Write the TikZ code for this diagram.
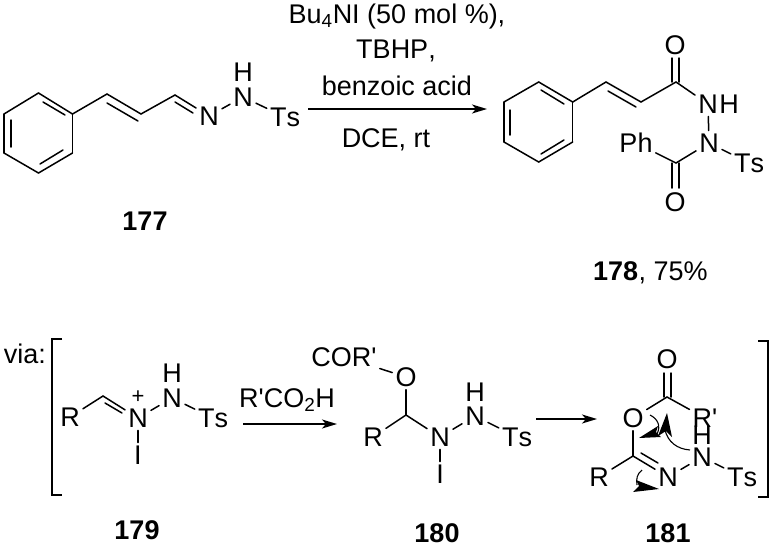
\documentclass[tikz,border=0pt]{standalone}
\usepackage{fontspec}
\setmainfont{Liberation Sans}[Kerning=Off]
\usetikzlibrary{arrows.meta}
\tikzset{
  atom/.style={font=\fontsize{27}{30}\selectfont,inner sep=3pt},
  txt/.style={font=\fontsize{27}{30}\selectfont,inner sep=0pt,anchor=base},
  lab/.style={font=\fontsize{27}{30}\selectfont\bfseries,inner sep=0pt,anchor=base},
  bond/.style={line width=1.5pt,line cap=round},
  rarrow/.style={line width=1.5pt,-{Stealth[length=15pt,width=9pt,inset=4pt]}},
  brack/.style={line width=1.5pt},
  push/.style={line width=1.1pt}
}
\newcommand{\qs}{\textquotesingle}
\begin{document}
\begin{tikzpicture}[x=1pt,y=-1pt]
    \useasboundingbox (0,0) rectangle (772,547);

    % 177
    \coordinate (a1) at (38.5,93);
    \coordinate (a2) at (72.5,114);
    \coordinate (a3) at (72.5,153);
    \coordinate (a4) at (38.5,173);
    \coordinate (a5) at (4,153);
    \coordinate (a6) at (4,114);
    \coordinate (a7) at (107,94);
    \coordinate (a8) at (141,114);
    \coordinate (a9) at (175,95);
    \coordinate (ai1) at (43,102);
    \coordinate (ai2) at (65,115);
    \coordinate (ai3) at (11,120);
    \coordinate (ai4) at (11,147);
    \coordinate (ai5) at (40,164);
    \coordinate (ai6) at (63,150);
    \coordinate (ai7) at (107,103);
    \coordinate (ai8) at (138,121);
    \coordinate (ai9) at (175,102);
    \coordinate (ai10) at (193,113);
    \node[atom] (aN) at (209,116) {N};
    \node[atom] (aNH) at (243,97) {N};
    \node[atom] (aH) at (243,72) {H};
    \node[atom] (aTs) at (285,117) {Ts};
    \foreach \p/\q in {a1/a2,a2/a3,a3/a4,a4/a5,a5/a6,a6/a1,a2/a7,a7/a8,a8/a9,a9/aN,aN/aNH,aNH/aTs,
                       ai1/ai2,ai3/ai4,ai5/ai6,ai7/ai8,ai9/ai10}
      \draw[bond] (\p) -- (\q);
    \node[lab] (l177) at (145,230) {177};

    % conditions
    \node[txt] (c1) at (397,23) {Bu\textsubscript{4}NI (50 mol \%),};
    \node[txt] (c2) at (396,58) {TBHP,};
    \node[txt] (c3) at (397,95) {benzoic acid};
    \node[txt] (c4) at (386,147) {DCE, rt};
    \coordinate (r1) at (308,109);
    \coordinate (r2) at (487,109);
    \draw[rarrow] (r1) -- (r2);

    % 178
    \coordinate (b1) at (538.7,82);
    \coordinate (b2) at (572.7,102);
    \coordinate (b3) at (572.7,142);
    \coordinate (b4) at (538.7,162);
    \coordinate (b5) at (504,142);
    \coordinate (b6) at (504,102);
    \coordinate (b7) at (606,82);
    \coordinate (b8) at (641,102);
    \coordinate (b9) at (676,82);
    \coordinate (b10) at (676,163);
    \coordinate (bi1) at (541,90);
    \coordinate (bi2) at (564,104);
    \coordinate (bi3) at (510,110);
    \coordinate (bi4) at (510,135);
    \coordinate (bi5) at (541,154);
    \coordinate (bi6) at (564,140);
    \coordinate (bi7) at (608,91);
    \coordinate (bi8) at (636,107);
    \coordinate (bo1) at (672,58);
    \coordinate (bo2) at (672,82);
    \coordinate (bo3) at (679,58);
    \coordinate (bo4) at (679,82);
    \coordinate (bo5) at (672,163);
    \coordinate (bo6) at (672,188);
    \coordinate (bo7) at (679,163);
    \coordinate (bo8) at (679,188);
    \node[atom] (bO1) at (675,45) {O};
    \node[atom] (bN1) at (708,104) {N};
    \node[atom,inner sep=0pt] (bH) at (729,104) {H};
    \node[atom] (bN2) at (709,143) {N};
    \node[atom] (bTs) at (749,163) {Ts};
    \node[atom] (bPh) at (636,143) {Ph};
    \node[atom] (bO2) at (675,202) {O};
    \foreach \p/\q in {b1/b2,b2/b3,b3/b4,b4/b5,b5/b6,b6/b1,b2/b7,b7/b8,b8/b9,b9/bN1,bN1/bN2,bN2/bTs,bN2/b10,b10/bPh,
                       bi1/bi2,bi3/bi4,bi5/bi6,bi7/bi8,bo1/bo2,bo3/bo4,bo5/bo6,bo7/bo8}
      \draw[bond] (\p) -- (\q);
    \node[lab,anchor=base west] (l178) at (593,280) {178};
    \node[txt,anchor=base west] (y178) at (l178.base east) {, 75\%};

    % via, brackets
    \node[txt] (via) at (25,363) {via:};
    \coordinate (k1) at (62,339);
    \coordinate (k2) at (52,339);
    \coordinate (k3) at (52,495);
    \coordinate (k4) at (62,495);
    \coordinate (k5) at (758,341);
    \coordinate (k6) at (768,341);
    \coordinate (k7) at (768,497);
    \coordinate (k8) at (758,497);
    \draw[brack] (k1) -- (k2) -- (k3) -- (k4);
    \draw[brack] (k5) -- (k6) -- (k7) -- (k8);

    % 179
    \coordinate (d1) at (103,396);
    \coordinate (di1) at (105,403);
    \coordinate (di2) at (122,413);
    \node[atom] (dR) at (70,417) {R};
    \node[atom] (dN1) at (138,418) {N};
    \node[font=\fontsize{22}{24}\selectfont,inner sep=0pt] (dplus) at (138,397) {+};
    \node[atom] (dN2) at (172,398) {N};
    \node[atom] (dH) at (172,373) {H};
    \node[atom] (dTs) at (213,418) {Ts};
    \node[atom] (dI) at (138,455) {I};
    \foreach \p/\q in {dR/d1,d1/dN1,di1/di2,dN1/dN2,dN2/dTs,dN1/dI}
      \draw[bond] (\p) -- (\q);
    \node[lab] (l179) at (137,539) {179};

    \node[txt] (acid) at (287,407) {R\qs CO\textsubscript{2}H};
    \coordinate (s1) at (243,424);
    \coordinate (s2) at (337,424);
    \draw[rarrow] (s1) -- (s2);

    % 180
    \coordinate (e1) at (406,415);
    \node[atom] (eCOR) at (344,357) {COR\qs};
    \node[atom] (eO) at (406,377) {O};
    \node[atom] (eR) at (373,437) {R};
    \node[atom] (eN1) at (440,437) {N};
    \node[atom] (eN2) at (475,416) {N};
    \node[atom] (eH) at (475,392) {H};
    \node[atom] (eTs) at (517,437) {Ts};
    \node[atom] (eI) at (440,474) {I};
    \foreach \p/\q in {eCOR/eO,eO/e1,e1/eR,e1/eN1,eN1/eN2,eN2/eTs,eN1/eI}
      \draw[bond] (\p) -- (\q);
    \node[lab] (l180) at (437,542) {180};

    \coordinate (t1) at (536,419);
    \coordinate (t2) at (597,419);
    \draw[rarrow] (t1) -- (t2);

    % 181
    \coordinate (f1) at (667,397);
    \coordinate (f2) at (633,456);
    \coordinate (fo1) at (664,373);
    \coordinate (fo2) at (664,397);
    \coordinate (fo3) at (671,373);
    \coordinate (fo4) at (671,397);
    \coordinate (fi1) at (641,453);
    \coordinate (fi2) at (658,463);
    \node[atom] (fO1) at (667,359) {O};
    \node[atom] (fO2) at (633,418) {O};
    \node[atom] (fRp) at (705,418) {R\qs};
    \node[atom] (fR) at (599,477) {R};
    \node[atom] (fN1) at (668,477) {N};
    \node[atom] (fN2) at (702,457) {N};
    \node[atom] (fH) at (702,435) {H};
    \node[atom] (fTs) at (742,477) {Ts};
    \foreach \p/\q in {fo1/fo2,fo3/fo4,f1/fO2,f1/fRp,fO2/f2,f2/fR,f2/fN1,fi1/fi2,fN1/fN2,fN2/fTs}
      \draw[bond] (\p) -- (\q);
    \node[lab] (l181) at (668,542) {181};

    % electron pushing
    \draw[push] (690,450) .. controls (677,449) and (668,442) .. (665,430);
    \fill (667,413) -- (658,436) -- (666,431) -- (672,437) -- cycle;
    \draw[push] (650,415) .. controls (658,419) and (661,426) .. (657,434);
    \fill (639,438) -- (658,426) -- (656,432) -- (661,437) -- cycle;
    \draw[push] (642,470) .. controls (637,474) and (636,479) .. (637,485);
    \fill (659,489) -- (636,480) -- (639,486) -- (633,492) -- cycle;
\end{tikzpicture}
\end{document}
